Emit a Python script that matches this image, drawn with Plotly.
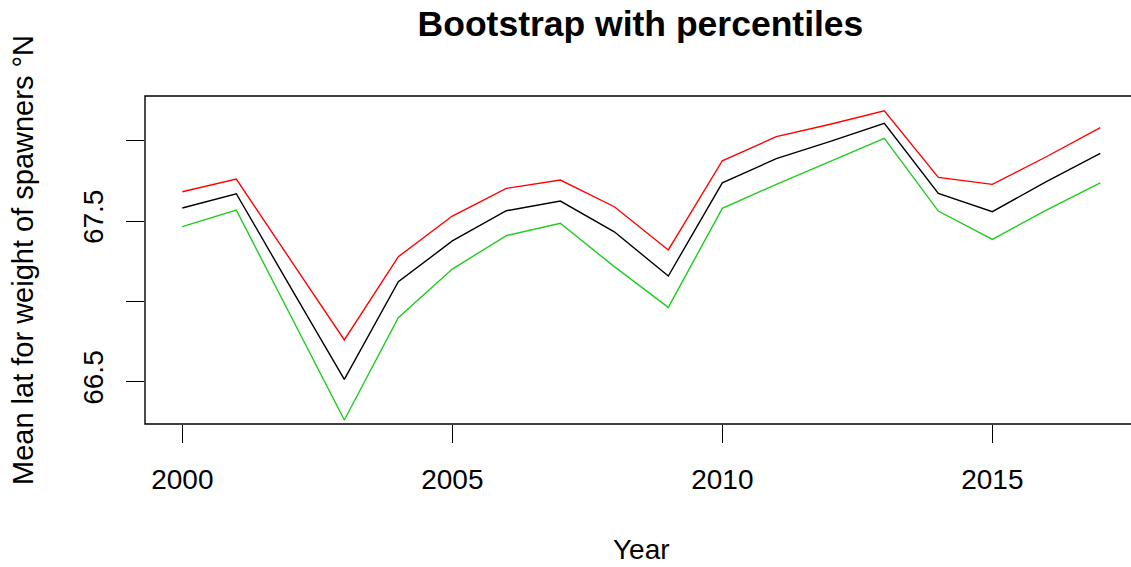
import plotly.graph_objects as go

# Yearly mean latitude (weighted by spawner weight) with bootstrap percentile band
years = list(range(2000, 2018))
upper = [67.682, 67.761, 67.26, 66.760, 67.278, 67.531, 67.703, 67.755, 67.589,
         67.320, 67.875, 68.025, 68.102, 68.186, 67.772, 67.728, 67.900, 68.081]
mean = [67.581, 67.670, 67.09, 66.515, 67.122, 67.376, 67.564, 67.624, 67.433,
        67.158, 67.738, 67.888, 67.996, 68.108, 67.672, 67.558, 67.745, 67.921]
lower = [67.465, 67.568, 66.915, 66.262, 66.898, 67.201, 67.409, 67.486, 67.216,
         66.963, 67.579, 67.728, 67.871, 68.015, 67.562, 67.386, 67.568, 67.738]

x_ticks = [2000, 2005, 2010, 2015]
y_ticks = [66.5, 67.0, 67.5, 68.0]
y_tick_text = ["66.5", "", "67.5", ""]

FONT = "Liberation Sans, Arial, sans-serif"

fig = go.Figure()
for vals, col in [(mean, "#000000"), (upper, "#FF0000"), (lower, "#1ECC1E")]:
    fig.add_trace(go.Scatter(x=years, y=vals, mode="lines",
                             line=dict(color=col, width=1.4),
                             showlegend=False, hoverinfo="skip"))

fig.update_layout(
    width=1131, height=567,
    margin=dict(l=145, r=0, t=96, b=143),
    paper_bgcolor="white", plot_bgcolor="white",
    font=dict(family=FONT, size=28, color="#000000"),
    title=dict(text="<b>Bootstrap with percentiles</b>",
               font=dict(family=FONT, size=35.5, color="#000000"),
               x=0.5025, xref="paper", xanchor="center",
               y=1 - 24 / 567, yref="container", yanchor="middle"),
    xaxis=dict(range=[1999.309, 2017.568], tickvals=x_ticks,
               ticks="outside", ticklen=18, tickwidth=1.2, tickcolor="#000000",
               showgrid=False, zeroline=False, showline=False,
               tickfont=dict(size=28), ticklabelstandoff=12),
    yaxis=dict(range=[66.237, 68.278], tickvals=y_ticks, ticktext=y_tick_text,
               ticks="outside", ticklen=18, tickwidth=1.2, tickcolor="#000000",
               showgrid=False, zeroline=False, showline=False,
               tickangle=-90, tickfont=dict(size=28), ticklabelstandoff=12),
)

# plot frame (right side runs past the page edge)
fig.add_shape(type="rect", xref="paper", yref="paper", x0=0, x1=1.02, y0=0, y1=1,
              line=dict(color="#000000", width=1.4), fillcolor="rgba(0,0,0,0)")

fig.add_annotation(text="Year", xref="paper", yref="paper",
                   x=0.5037, y=-0.384, xanchor="center", yanchor="middle",
                   showarrow=False, font=dict(size=28))
fig.add_annotation(text="Mean lat for weight of spawners °N", xref="paper", yref="paper",
                   x=-0.1237, y=0.5, xanchor="center", yanchor="middle",
                   textangle=-90, showarrow=False, font=dict(size=29))

fig.write_html("out.html")
